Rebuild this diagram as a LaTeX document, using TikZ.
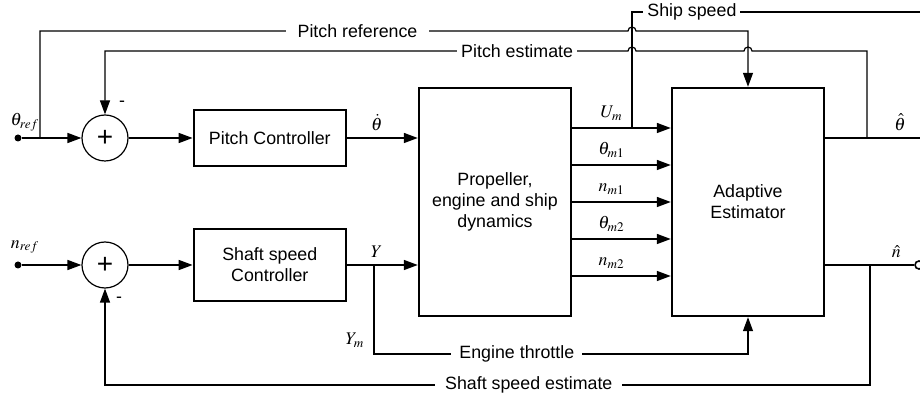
\documentclass[tikz,border=0pt]{standalone}
\usepackage{mathptmx}
\usepackage{fontspec}
\setmainfont{Liberation Sans}
\usetikzlibrary{positioning, arrows.meta}

\begin{document}
\begin{tikzpicture}[x=0.5pt, y=-0.5pt, font=\fontsize{8.9}{10.5}\selectfont,
    blk/.style={draw, very thick, minimum width=76pt, align=center, inner sep=0pt},
    sumnode/.style={draw, semithick, circle, minimum size=23pt, inner sep=0pt,
                    font=\fontsize{14}{14}\selectfont},
    sig/.style={thick, -{Triangle[length=7pt, width=5pt]}},
    fb/.style={semithick},
    fbarr/.style={semithick, -{Triangle[length=7pt, width=5pt]}},
    lbl/.style={fill=white, inner ysep=1pt, inner xsep=2pt},
    dot/.style={circle, fill, minimum size=3.5pt, inner sep=0pt},
    odot/.style={circle, draw, thick, fill=white, minimum size=4pt, inner sep=0pt}]
  \useasboundingbox (0,0) rectangle (920,400);

  % summing junctions and blocks
  \node[sumnode] (sum1) at (105,138) {+};
  \node[blk, minimum height=28pt, right=32pt of sum1] (pc) {Pitch Controller};
  \node[sumnode] (sum2) at (105,265) {+};
  \node[blk, minimum height=36pt, right=32pt of sum2] (ssc) {Shaft speed\\Controller};
  \node[blk, minimum height=114pt] (prop) at (495,202) {Propeller,\\engine and ship\\dynamics};
  \node[blk, minimum height=114pt] (est) at (748,202) {Adaptive\\Estimator};

  % inputs and outputs
  \node[dot] (tref) at (18,138) {};
  \node[dot] (nref) at (18,265) {};
  \node[odot] (nout) at (919,265) {};
  \node at (25,122) {$\theta_{ref}$};
  \node at (25,247) {$n_{ref}$};
  \node at (122,104) {-};
  \node at (119,300) {-};

  \coordinate (prbr) at (40,138);
  \coordinate (ubr) at (632,128);
  \coordinate (ybr) at (374,265);
  \coordinate (thbr) at (867,138);
  \coordinate (nbr) at (870,265);
  \coordinate (thend) at (920,138);
  \coordinate (ssend) at (920,12);

  % forward path
  \draw[sig] (tref) -- (sum1);
  \draw[sig] (sum1) -- (pc);
  \draw[sig] (pc.east) -- node[above, pos=0.42] {$\dot{\theta}$} (pc.east -| prop.west);
  \draw[sig] (nref) -- (sum2);
  \draw[sig] (sum2) -- (ssc);
  \draw[sig] (ssc.east) -- node[above, pos=0.42] {$Y$} (ssc.east -| prop.west);
  \foreach \s/\lab in {37/U_m, 18.5/\theta_{m1}, 0/n_{m1}, -18.5/\theta_{m2}, -37/n_{m2}}
    \draw[sig] ([yshift=\s pt]prop.east) -- node[above, pos=0.4] {$\lab$} ([yshift=\s pt]est.west);
  \draw[thick] ([yshift=32pt]est.east) -- node[above, pos=0.79] {$\hat{\theta}$} (thend);
  \draw[thick] ([yshift=-31.5pt]est.east) -- node[above, pos=0.8] {$\hat{n}$} (nout);

  % measurement and feedback lines
  \draw[fb] (ubr) |- node[lbl, pos=0.604] {Ship speed} (ssend);
  \draw[fbarr] (prbr) |- node[lbl, inner xsep=6pt, pos=0.77] {Pitch reference} (628,31)
    arc[start angle=180, end angle=0, radius=2pt] -| (est.north);
  \draw[fbarr] (thbr) |- (752,51) arc[start angle=0, end angle=180, radius=2pt] -- (636,51)
    arc[start angle=0, end angle=180, radius=2pt] -| node[lbl, pos=0.106] {Pitch estimate} (sum1.north);
  \draw[fbarr] (ybr) -- ++(0,89) -| node[lbl, inner xsep=4pt, pos=0.191] {Engine throttle} (est.south);
  \node at (355,340) {$Y_m$};
  \draw[fbarr] (nbr) -- ++(0,120) -| node[lbl, inner xsep=5pt, pos=0.223] {Shaft speed estimate} (sum2.south);
\end{tikzpicture}
\end{document}
